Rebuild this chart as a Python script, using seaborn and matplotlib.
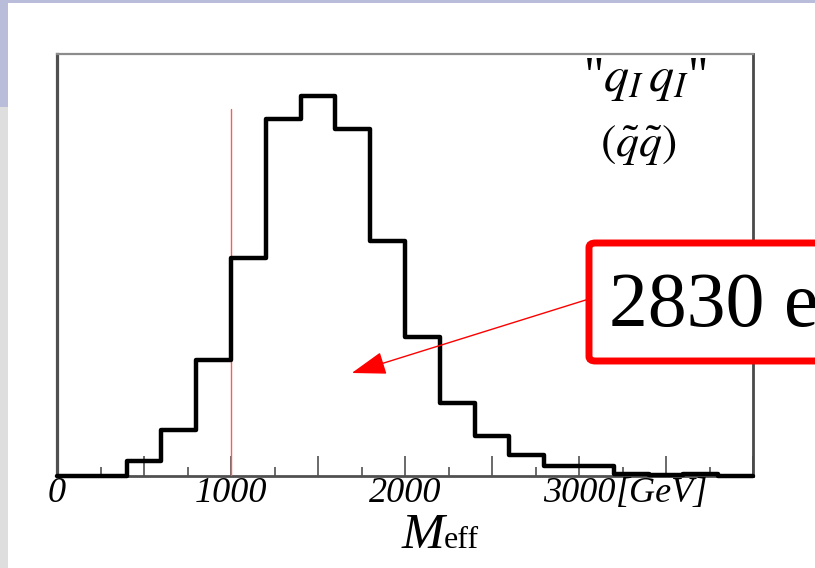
import numpy as np
import pandas as pd
import seaborn as sns
import matplotlib
matplotlib.use("Agg")
import matplotlib.pyplot as plt
from matplotlib.patches import Rectangle, FancyBboxPatch
from matplotlib.ticker import MultipleLocator, FixedLocator, FixedFormatter

# M_eff histogram, 200 GeV bins from 0 to 4000 GeV
bin_edges = list(range(0, 4001, 200))
bin_counts = [0, 0, 15, 46, 116, 218, 357, 380, 347, 235,
              139, 73, 40, 21, 10, 10, 2, 1, 2, 0]
cut_value = 1000
tick_values = [0, 500, 1000, 1500, 2000, 2500, 3000, 3500, 4000]
tick_labels = ["0", "", "1000", "", "2000", "", "3000", "", ""]
unit_label = "[GeV]"
event_label = "2830 events"
channel_label = r'"$q_I\,q_I$"'
process_label = r"$(\tilde{q}\tilde{q})$"

W, H = 815, 568
sns.set_theme(style="white")
plt.rcParams["font.family"] = ["Liberation Serif", "DejaVu Serif"]
plt.rcParams["mathtext.fontset"] = "stix"

fig = plt.figure(figsize=(W / 100, H / 100), dpi=100)
fig.patch.set_facecolor("white")


def fx(px):
    return px / W


def fy(py):
    return 1 - py / H


# slide frame strips
fig.add_artist(Rectangle((0, fy(3)), 1, 3 / H, transform=fig.transFigure,
                         facecolor="#b9bdd9", edgecolor="none", zorder=-5))
fig.add_artist(Rectangle((0, fy(107)), 8 / W, 107 / H, transform=fig.transFigure,
                         facecolor="#b9bdd9", edgecolor="none", zorder=-5))
fig.add_artist(Rectangle((0, 0), 8 / W, fy(107), transform=fig.transFigure,
                         facecolor="#dedede", edgecolor="none", zorder=-5))

ax = fig.add_axes([fx(57), fy(476), fx(753) - fx(57), (476 - 54) / H])

df = pd.DataFrame({
    "meff": [(a + b) / 2 for a, b in zip(bin_edges[:-1], bin_edges[1:])],
    "count": bin_counts,
})
sns.histplot(data=df, x="meff", weights="count", bins=bin_edges,
             element="step", fill=False, color="black", linewidth=3.2, ax=ax)
for ln in ax.lines:
    ln.set_clip_on(False)
    ln.set_zorder(4)

ax.set_xlim(0, 4000)
ax.set_ylim(0, 422)
ax.set_ylabel("")
ax.set_xlabel("")
ax.set_yticks([])

# cut line
ax.axvline(cut_value, ymin=0, ymax=367 / 422, color="#ff5a5a", lw=1.0, zorder=3)

# spines
ax.spines["left"].set_color("#505050")
ax.spines["left"].set_linewidth(2.3)
ax.spines["right"].set_color("#4a4a4a")
ax.spines["right"].set_linewidth(2.0)
ax.spines["top"].set_color("#8c8c8c")
ax.spines["top"].set_linewidth(1.6)
ax.spines["bottom"].set_color("#505050")
ax.spines["bottom"].set_linewidth(2.0)

ax.xaxis.set_major_locator(FixedLocator(tick_values))
ax.xaxis.set_major_formatter(FixedFormatter(tick_labels))
ax.xaxis.set_minor_locator(MultipleLocator(250))
ax.tick_params(axis="x", which="major", direction="in", length=14.4, width=1.2,
               color="#505050", pad=1, bottom=True, top=False)
ax.tick_params(axis="x", which="minor", direction="in", length=6.5, width=1.2,
               color="#505050", bottom=True, top=False)
for lab in ax.get_xticklabels():
    lab.set_fontstyle("italic")
    lab.set_fontsize(26)
    lab.set_color("black")

# unit follows the last labelled tick directly
ax.annotate(unit_label, xy=(3210, 0), xycoords=("data", "axes fraction"),
            xytext=(0, -1), textcoords="offset points", ha="left", va="top",
            fontsize=26, fontstyle="italic", color="black", annotation_clip=False)

# axis title M_eff
fig.text(fx(444), fy(548), "M", fontsize=37, fontstyle="italic",
         ha="right", va="baseline", color="black")
fig.text(fx(444), fy(548), "eff", fontsize=23, ha="left", va="baseline",
         color="black")

# channel labels
fig.text(fx(645), fy(91), channel_label, fontsize=36, ha="center",
         va="baseline", color="black")
fig.text(fx(638), fy(156), process_label, fontsize=33, ha="center",
         va="baseline", color="black")

# event-count callout box
box = FancyBboxPatch((fx(589), fy(361)), fx(920) - fx(589), (361 - 243) / H,
                     boxstyle="round,pad=0,rounding_size=0.008",
                     transform=fig.transFigure, facecolor="white",
                     edgecolor="#ff0000", linewidth=5, zorder=6, clip_on=False)
fig.add_artist(box)
fig.text(fx(609), fy(326), event_label, fontsize=56, ha="left", va="baseline",
         color="black", zorder=7)

# arrow from the box into the histogram
ax.annotate("", xy=(1694, 103), xycoords="data",
            xytext=(3057, 177), textcoords="data",
            arrowprops=dict(arrowstyle="-|>,head_length=0.6,head_width=0.2",
                            color="#ff0000", lw=1.0, mutation_scale=36,
                            shrinkA=0, shrinkB=0),
            annotation_clip=False, zorder=5)

fig.savefig("out.png", dpi=100)
